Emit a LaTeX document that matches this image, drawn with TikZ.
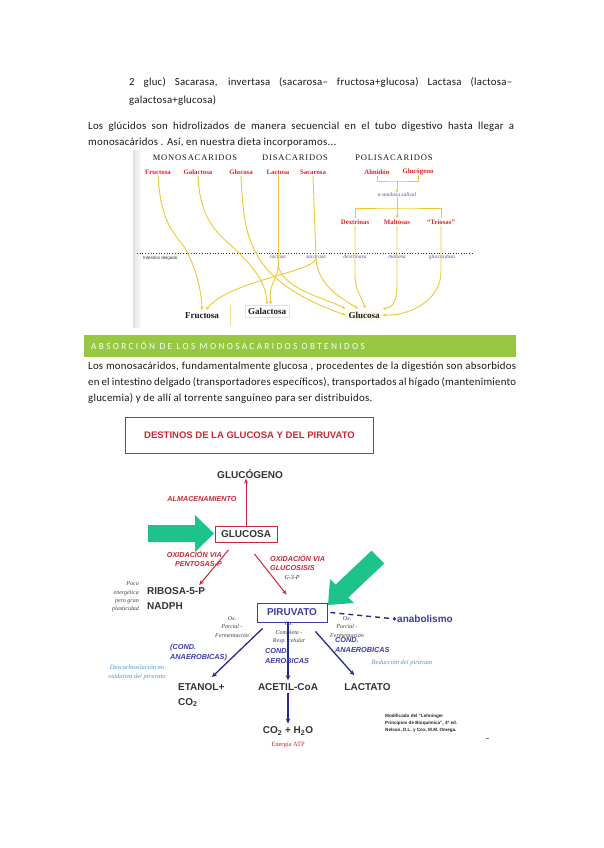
\documentclass[tikz,border=0pt]{standalone}
\usepackage{fontspec}
\setmainfont{Carlito}
\newfontfamily\bodyf{Carlito}[LetterSpace=2.5]
\newfontfamily\arialf{Liberation Sans}
\newfontfamily\serf{Liberation Serif}
\newfontfamily\serfsp{Liberation Serif}[LetterSpace=10]
\newfontfamily\hdrf{Carlito}[LetterSpace=25]
\usetikzlibrary{arrows.meta}
\definecolor{yel}{RGB}{240,200,50}
\definecolor{tred}{RGB}{225,35,35}
\definecolor{tpurp}{RGB}{110,70,170}
\definecolor{band}{RGB}{150,200,65}
\definecolor{lred}{RGB}{200,40,55}
\definecolor{pblue}{RGB}{60,60,165}
\definecolor{nblue}{RGB}{40,40,145}
\definecolor{lblue}{RGB}{80,150,205}
\definecolor{grn}{RGB}{30,195,140}
\definecolor{txt}{RGB}{25,25,25}
\tikzset{
  body/.style={anchor=base west, inner sep=0pt, font=\bodyf\fontsize{10.8}{13}\selectfont, text=txt},
  hd/.style={font=\serfsp\fontsize{8.5}{9}\selectfont, inner sep=0pt, text=txt},
  rl/.style={font=\serf\bfseries\fontsize{6.8}{7}\selectfont, text=tred, inner sep=1pt},
  enz/.style={font=\serf\itshape\fontsize{5.5}{6}\selectfont, text=tpurp, inner sep=0pt},
  yl/.style={draw=yel, line width=0.9pt},
  yarr/.style={yl, -{Stealth[length=3.5pt,width=3pt]}},
  monob/.style={font=\serf\bfseries\fontsize{9}{10}\selectfont, inner sep=3pt, text=txt},
  big/.style={font=\arialf\bfseries\fontsize{10}{15}\selectfont, text=black!80, inner sep=0pt},
  redit/.style={font=\arialf\bfseries\itshape\fontsize{7.2}{8.5}\selectfont, text=lred, inner sep=0pt},
  blueit/.style={font=\arialf\bfseries\itshape\fontsize{7.3}{9.5}\selectfont, text=pblue, inner sep=0pt, align=left},
  note/.style={font=\serf\itshape\fontsize{6}{8.4}\selectfont, text=black!75, inner sep=0pt, align=center},
  lnote/.style={note, text=lblue, font=\serf\itshape\fontsize{6.5}{9}\selectfont},
  rarr/.style={draw=lred, line width=1pt, -{Stealth[length=5pt,width=4pt]}},
  barr/.style={draw=nblue, line width=1.3pt, -{Stealth[length=5pt,width=4.5pt]}},
}
\begin{document}
\begin{tikzpicture}[x=1pt,y=-1pt]
\useasboundingbox (0,0) rectangle (603,848);
\fill[white] (0,0) rectangle (603,848);

% ---------- page text ----------
\node[body] (t1) at (129,86) {\makebox[383pt][s]{2 gluc) Sacarasa, invertasa (sacarosa– fructosa+glucosa) Lactasa (lactosa–}};
\node[body] (t2) at (129,104) {galactosa+glucosa)};
\node[body] (p1) at (88,129) {\makebox[426pt][s]{Los glúcidos son hidrolizados de manera secuencial en el tubo digestivo hasta llegar a}};
\node[body] (p2) at (88,146) {monosacáridos . Así, en nuestra dieta incorporamos...};

% ---------- top diagram ----------
\shade[left color=black!12, right color=white] (133,150) rectangle (142,327);
\node[hd] (mono) at (195,158) {MONOSACARIDOS};
\node[hd] (disa) at (295,158) {DISACARIDOS};
\node[hd] (poli) at (394,158) {POLISACARIDOS};
\node[rl] (fru) at (158,172) {Fructosa};
\node[rl] (gal) at (198,172) {Galactosa};
\node[rl] (glu) at (241,172) {Glucosa};
\node[rl] (lac) at (278,172) {Lactosa};
\node[rl] (sac) at (313,172) {Sacarosa};
\node[rl] (alm) at (377,172) {Almidón};
\node[rl] (glg) at (418,172) {Glucógeno};
\node[enz] (ami) at (397,195) {α-amilasa salival};
\node[rl] (dex) at (355,222) {Dextrinas};
\node[rl] (mal) at (397,222) {Maltosas};
\node[rl] (tri) at (441,222) {“Triosas”};
\draw[yl] (alm.south) |- (397,181) -| (glg.south);
\draw[yarr] (397,181) -- (ami.north);
\draw[yl] (ami.south) -- (397,208);
\draw[yl] (dex.north) |- (397,208) -| (tri.north);
\draw[yarr] (397,208) -- (mal.north);

\coordinate (dl) at (137,253);
\coordinate (dr) at (472,253);
\draw[dotted, line width=0.7pt, black!80] (dl) -- (dr);
\node[font=\arialf\fontsize{4.5}{5}\selectfont, anchor=west, inner sep=0pt, text=black!80] (intd) at (143,258) {Intestino delgado};
\node[enz] (e1) at (278,257) {lactasa};
\node[enz] (e2) at (316,257) {sacarasa};
\node[enz] (e3) at (355,257) {dextrinasa};
\node[enz] (e4) at (397,257) {maltasa};
\node[enz] (e5) at (442,257) {glucosidasa};

\node[monob] (bfru) at (202,316) {Fructosa};
\draw[yel!60, line width=0.6pt] (230,305) -- (230,326);
\node[monob, draw=yel!50, line width=0.6pt] (bgal) at (267,311) {Galactosa};
\node[monob, fill=yel!8] (bglu) at (364,315) {Glucosa};

\draw[yarr] (fru.south) .. controls (161,228) and (178,236) .. (186,250) .. controls (194,265) and (201,285) .. (bfru.north);
\draw[yarr] (gal.south) .. controls (200,225) and (222,236) .. (238,252) .. controls (256,270) and (266,284) .. (bgal.north);
\draw[yarr] (glu.south) .. controls (243,225) and (248,240) .. (260,260) .. controls (280,290) and (320,306) .. (bglu.west);
\draw[yl] (lac.south) -- (278,266);
\draw[yarr] (278,266) .. controls (278,280) and (268,283) .. ([xshift=4pt]bgal.north);
\draw[yarr] (278,266) .. controls (285,290) and (325,298) .. (bglu.north west);
\draw[yl] (sac.south) -- (316,258);
\draw[yarr] (316,258) .. controls (316,272) and (230,280) .. ([xshift=4pt]bfru.north);
\draw[yarr] (316,258) .. controls (318,285) and (338,296) .. ([xshift=-6pt]bglu.north);
\draw[yarr] (dex.south) -- (355,275) .. controls (355,292) and (362,296) .. ([xshift=1pt]bglu.north);
\draw[yarr] (mal.south) -- (397,285) .. controls (397,302) and (392,308) .. (bglu.north east);
\draw[yarr] (tri.south) -- (441,272) .. controls (441,300) and (410,316) .. (bglu.east);

% ---------- green band ----------
\fill[band] (84,335) rectangle (516,357);
\node[anchor=base west, inner sep=0pt, text=white, font=\hdrf\fontsize{9.3}{10}\selectfont] (hdr) at (91,349.5) {ABSORCIÓN DE LOS MONOSACARIDOS OBTENIDOS};
\node[body] (q1) at (88,369) {\makebox[428pt][s]{Los monosacáridos, fundamentalmente glucosa , procedentes de la digestión son absorbidos}};
\node[body] (q2) at (88,385) {\makebox[428pt][s]{en el intestino delgado (transportadores específicos), transportados al hígado (mantenimiento}};
\node[body] (q3) at (88,401) {glucemia) y de allí al torrente sanguíneo para ser distribuidos.};

% ---------- lower diagram ----------
\node[draw=lred, line width=0.8pt, minimum width=248pt, minimum height=36pt, inner sep=0pt,
      font=\arialf\bfseries\fontsize{9.5}{11}\selectfont, text=lred] (title) at (249.5,435) {DESTINOS DE LA GLUCOSA Y DEL PIRUVATO};
\node[big] (glg2) at (250,474) {GLUCÓGENO};
\node[big, draw=lred, line width=0.8pt, minimum width=62pt, minimum height=16pt] (glc) at (246,534.5) {GLUCOSA};
\draw[rarr] (glc.north) -- (glc.north |- glg2.south);
\node[redit] (alm2) at (202,499) {ALMACENAMIENTO};
\fill[grn] (148,525) -- (195,525) -- (195,515) -- (214,533.5) -- (195,552) -- (195,542) -- (148,542) -- cycle;

\node[redit, align=right, anchor=north east] (oxp) at (222,551) {OXIDACIÓN VIA\\PENTOSAS-P};
\node[redit, align=left, anchor=north west] (oxg) at (270,555) {OXIDACIÓN VIA\\GLUCOSISIS};
\node[note, text=black!85] (g3p) at (292,578) {G-3-P};
\node[big, align=left, anchor=north west] (rib) at (147,587) {RIBOSA-5-P\\NADPH};
\node[note, align=right, anchor=east] (poco) at (139,597) {Poco\\energética\\pero gran\\plasticidad};
\node[big, text=pblue, draw=pblue, line width=0.8pt, minimum width=70pt, minimum height=19pt] (pir) at (292,612.5) {PIRUVATO};
\draw[rarr] ([shift={(14,7)}]glc.south west) -- ([shift={(-6,-2)}]rib.north east);
\draw[rarr] ([shift={(-23,11)}]glc.south east) -- ([shift={(30,-8)}]pir.north west);

\fill[grn] (371.6,550.6) -- (335.6,584.6) -- (330,579) -- (328,605) -- (354,603) -- (348.4,597.4) -- (384.4,563.4) -- cycle;

\node[big, text=pblue, anchor=west] (anab) at (397,619) {anabolismo};
\draw[draw=nblue, line width=1.4pt, dash pattern=on 5pt off 4pt, -{Circle[length=3pt]}] ([xshift=3pt]pir.east) -- ([xshift=-1pt]anab.west);

\node[note] (oxl) at (232,627) {Ox.\\Parcial -\\Fermentación};
\node[note] (oxm) at (289,633) {Ox.\\Completa -\\Resp. celular};
\node[note] (oxr) at (347,627) {Ox.\\Parcial -\\Fermentación};

\node[big, align=left, anchor=north west] (eta) at (178,683) {ETANOL+\\CO\textsubscript{2}};
\node[big] (acet) at (288,687) {ACETIL-CoA};
\node[big] (lac2) at (367.5,687) {LACTATO};
\node[big] (co2) at (288,731) {CO\textsubscript{2} + H\textsubscript{2}O};
\node[font=\serf\fontsize{6.5}{7}\selectfont, text=lred, inner sep=0pt] (atp) at (288,745) {Energía ATP};

\draw[barr] ([shift={(6,6)}]pir.south west) -- ([shift={(34,-6)}]eta.north west);
\draw[barr] (pir.south -| acet.north) -- ([yshift=3pt]acet.north);
\draw[barr] ([shift={(-12,9)}]pir.south east) -- ([shift={(10,-8)}]lac2.north west);
\draw[barr] ([yshift=-2pt]acet.south) -- ([yshift=3pt]co2.north);

\node[blueit, anchor=north west] (anl) at (170,644.5) {(COND.\\ANAEROBICAS)};
\node[blueit, anchor=north west] (aer) at (265,648.5) {COND.\\AEROBICAS};
\node[blueit, anchor=north west] (anr) at (335,637.5) {COND.\\ANAEROBICAS};
\node[lnote] (redp) at (402,663) {Reducción del piruvato};
\node[lnote] (desc) at (137,672) {Descarboxilación no\\oxidativa del piruvato};

\node[font=\arialf\bfseries\fontsize{4.6}{7.2}\selectfont, align=left, anchor=north west, inner sep=0pt, text=black!85] (modif) at (385,714) {Modificado del “Lehninger\\Principios de Bioquímica”, 4ª ed.\\Nelson, D.L. y Cox, M.M. Omega.};
\draw[black!50, line width=0.8pt] (486,738) -- (489,738);
\end{tikzpicture}
\end{document}
